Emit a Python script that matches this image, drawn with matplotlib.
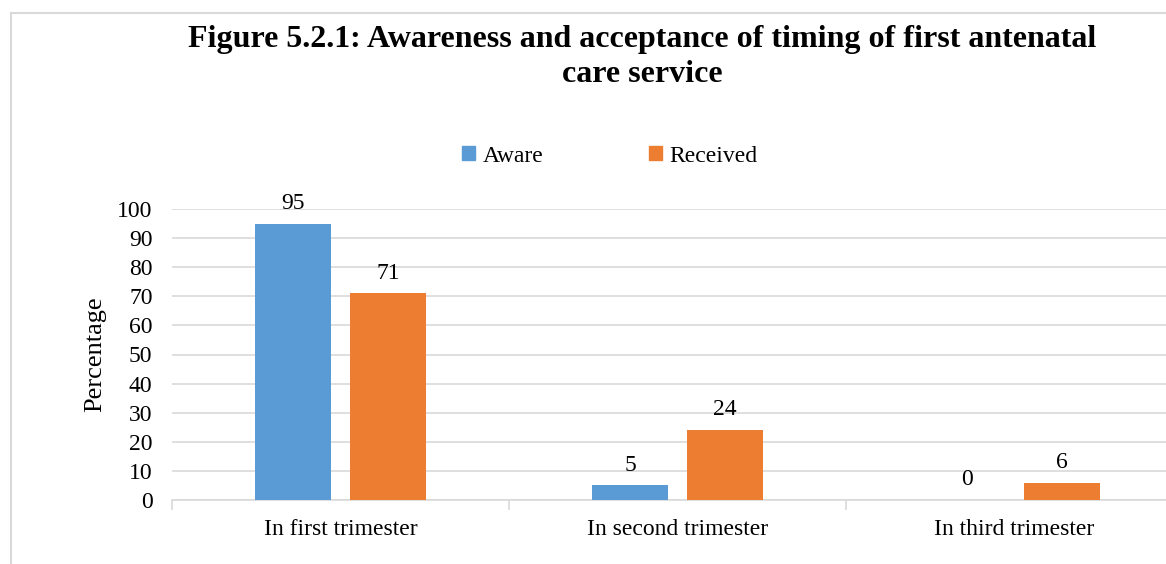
import numpy as np
import matplotlib.pyplot as plt
from matplotlib.patches import Rectangle
from matplotlib.lines import Line2D

# data
categories = ['In first trimester', 'In second trimester', 'In third trimester']
aware = [95, 5, 0]
received = [71, 24, 6]
series_names = ['Aware', 'Received']
yticks = list(range(0, 101, 10))

blue = '#5B9BD5'
orange = '#ED7D31'
grid_col = '#D9D9D9'

plt.rcParams['font.family'] = ['Liberation Serif', 'DejaVu Serif']

fig = plt.figure(figsize=(11.66, 5.64), dpi=100)
W, H = 1166, 564

# plot area in pixels: x 172..1183 (runs past right edge), y 209..500
ax = fig.add_axes([172 / W, (H - 500) / H, 1011 / W, 291 / H])

x = np.arange(len(categories))
bw = 0.223
off = 0.141
b1 = ax.bar(x - off, aware, bw, color=blue, zorder=3)
b2 = ax.bar(x + off, received, bw, color=orange, zorder=3)

for bars, vals in [(b1, aware), (b2, received)]:
    for rect, v in zip(bars, vals):
        ax.annotate(str(v), (rect.get_x() + rect.get_width() / 2, v),
                    xytext=(0, 7), textcoords='offset points',
                    ha='center', va='bottom', fontsize=17)

ax.set_xlim(-0.5, 2.5)
ax.set_ylim(0, 100)
ax.set_yticks(yticks)
ax.set_xticks(x)
ax.set_xticklabels(categories, fontsize=17)
ax.set_xticks([-0.5, 0.5, 1.5, 2.5], minor=True)
ax.tick_params(axis='x', which='major', length=0, pad=14)
ax.tick_params(axis='x', which='minor', length=7, color=grid_col, width=1.2)
ax.tick_params(axis='y', length=0, labelsize=17, pad=14)
ax.grid(axis='y', color=grid_col, linewidth=1.2, zorder=0)
ax.set_axisbelow(True)
for s in ['top', 'right', 'left']:
    ax.spines[s].set_visible(False)
ax.spines['bottom'].set_color(grid_col)
ax.spines['bottom'].set_linewidth(1.2)
ax.set_ylabel('Percentage', fontsize=19, labelpad=8)

handles = [Rectangle((0, 0), 1, 1, color=blue), Rectangle((0, 0), 1, 1, color=orange)]
fig.legend(handles, series_names, loc='center', bbox_to_anchor=(610 / W, 1 - 156 / H),
           ncol=2, frameon=False, fontsize=17, handlelength=0.55, handleheight=0.55,
           handletextpad=0.3, columnspacing=4.5)

fig.text(642 / W, 1 - 40 / H, 'Figure 5.2.1: Awareness and acceptance of timing of first antenatal',
         ha='center', va='center', fontsize=23, fontweight='bold')
fig.text(642 / W, 1 - 75 / H, 'care service',
         ha='center', va='center', fontsize=23, fontweight='bold')

# outer chart frame (only top and left edges visible)
fig.add_artist(Line2D([11 / W, 11 / W], [0, 1 - 13 / H], color=grid_col, lw=1.5))
fig.add_artist(Line2D([11 / W, 1], [1 - 13 / H, 1 - 13 / H], color=grid_col, lw=1.5))

fig.savefig('out.png', dpi=100)
